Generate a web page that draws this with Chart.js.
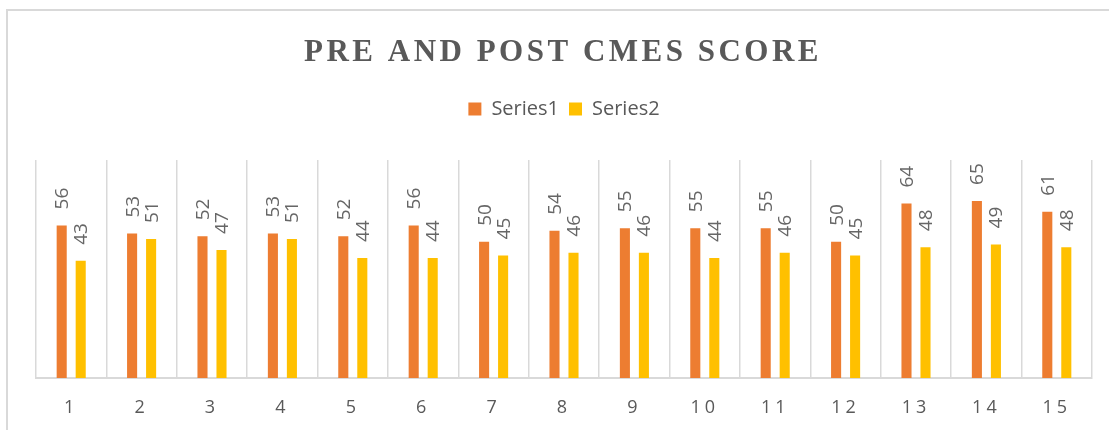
<!DOCTYPE html>
<html>
<head>
<meta charset="utf-8">
<script src="https://cdn.jsdelivr.net/npm/chart.js@4.4.1/dist/chart.umd.min.js"></script>
<style>
    html, body { margin: 0; padding: 0; background: #fff; overflow: hidden; }
    #moldura {
        position: absolute; left: 6px; top: 9px; width: 1130px; height: 450px;
        border-left: 2px solid #d9d9d9; border-top: 2px solid #d9d9d9;
    }
    #area { position: absolute; left: 0; top: 0; width: 1109px; height: 430px; }
</style>
</head>
<body>
<div id="moldura"></div>
<div id="area"><canvas id="grafico-cmes"></canvas></div>
<script>
// Dados do gráfico
const titulo = 'PRE AND POST CMES SCORE';
const categorias = ['1', '2', '3', '4', '5', '6', '7', '8', '9', '10', '11', '12', '13', '14', '15'];
const serie1 = [56, 53, 52, 53, 52, 56, 50, 54, 55, 55, 55, 50, 64, 65, 61];
const serie2 = [43, 51, 47, 51, 44, 44, 45, 46, 46, 44, 46, 45, 48, 49, 48];

const corTexto = '#595959';

// Plugin: título com espaçamento entre letras
const pluginTitulo = {
    id: 'tituloEspacado',
    afterDraw(chart) {
        const ctx = chart.ctx;
        ctx.save();
        ctx.letterSpacing = '3.5px';
        ctx.font = 'bold 31px "Liberation Serif", "DejaVu Serif", serif';
        ctx.fillStyle = corTexto;
        ctx.textAlign = 'center';
        ctx.textBaseline = 'alphabetic';
        ctx.fillText(titulo, 563, 61);
        ctx.restore();
    }
};

// Plugin: rótulos de valor rotacionados acima das barras
const pluginRotulos = {
    id: 'rotulosBarras',
    afterDatasetsDraw(chart) {
        const ctx = chart.ctx;
        chart.data.datasets.forEach((ds, i) => {
            const meta = chart.getDatasetMeta(i);
            meta.data.forEach((barra, j) => {
                ctx.save();
                ctx.letterSpacing = '0px';
                ctx.translate(barra.x + 1, barra.y - 16);
                ctx.rotate(-Math.PI / 2);
                ctx.font = '19px "Open Sans", sans-serif';
                ctx.fillStyle = '#666666';
                ctx.textAlign = 'left';
                ctx.textBaseline = 'middle';
                ctx.fillText(String(ds.data[j]), 0, 0);
                ctx.restore();
            });
        });
        // espaçamento dos rótulos do eixo x (desenhados depois, z = 1)
        ctx.letterSpacing = '4px';
    },
    afterDraw(chart) {
        chart.ctx.letterSpacing = '0px';
    }
};

// Plugin: altura fixa da legenda
const pluginLegenda = {
    id: 'alturaLegenda',
    beforeInit(chart) {
        const fitOriginal = chart.legend.fit;
        chart.legend.fit = function () {
            fitOriginal.call(this);
            this.height = 71;
        };
    }
};

new Chart(document.getElementById('grafico-cmes').getContext('2d'), {
    type: 'bar',
    data: {
        labels: categorias,
        datasets: [
            {
                label: 'Series1',
                data: serie1,
                backgroundColor: '#ED7D31',
                categoryPercentage: 0.54,
                barPercentage: 0.53
            },
            {
                label: 'Series2',
                data: serie2,
                backgroundColor: '#FFC000',
                categoryPercentage: 0.54,
                barPercentage: 0.53
            }
        ]
    },
    options: {
        responsive: true,
        maintainAspectRatio: false,
        animation: false,
        layout: {
            padding: { top: 89, left: 36, right: 17, bottom: 0 }
        },
        plugins: {
            title: { display: false },
            tooltip: { enabled: false },
            legend: {
                position: 'top',
                labels: {
                    boxWidth: 13,
                    boxHeight: 13,
                    padding: 10,
                    color: corTexto,
                    font: { family: '"Open Sans", sans-serif', size: 20 }
                }
            }
        },
        scales: {
            x: {
                afterFit(scale) {
                    scale.height = 52;
                },
                grid: {
                    offset: true,
                    color: '#d9d9d9',
                    lineWidth: 1.5,
                    drawTicks: false,
                    tickLength: 0
                },
                border: { color: '#d9d9d9', width: 2 },
                ticks: {
                    z: 1,
                    padding: 19,
                    color: corTexto,
                    font: { family: '"Open Sans", sans-serif', size: 18 }
                }
            },
            y: {
                display: false,
                min: 0,
                max: 80
            }
        }
    },
    plugins: [pluginTitulo, pluginRotulos, pluginLegenda]
});
</script>
</body>
</html>
